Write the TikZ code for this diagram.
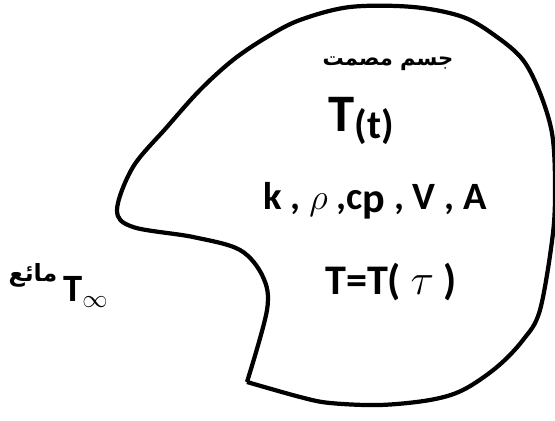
\documentclass[tikz,border=0pt]{standalone}
\usepackage{fontspec}
\setmainfont{Carlito}
\newfontfamily\arabicfont[Script=Arabic]{DejaVu Sans}
\TeXXeTstate=1

\begin{document}
\begin{tikzpicture}[x=0.02cm,y=-0.02cm]
\tikzset{
  lbl/.style={inner sep=0pt,font=\bfseries\fontsize{22}{24}\selectfont},
  arlbl/.style={inner sep=0pt,font=\arabicfont\bfseries\fontsize{12}{14}\selectfont},
  body/.style={line width=2.4pt,line join=round}
}
\useasboundingbox (0,0) rectangle (555,421);
% solid body outline
\draw[body] plot[smooth,tension=0.55] coordinates {
  (247,382) (267,310) (263,277) (240,250) (193,237) (133,227) (117,210)
  (133,167) (167,127) (200,90) (233,60) (267,37) (300,20) (350,7)
  (413,7) (463,17) (497,37) (523,60) (540,93) (552,133) (555,180)
  (553,233) (540,310) (523,340) (497,367) (463,390) (430,400)
  (380,405) (330,403) (300,397) (247,382)};
% labels inside
\node[arlbl] (solid) at (388,64) {\beginR جسم مصمت\endR};
\node[lbl,font=\bfseries\fontsize{30}{32}\selectfont] (Tt) at (361,121)
  {T\raisebox{-4pt}{\fontsize{23}{24}\selectfont(t)}};
\node[lbl] (props) at (375,201)
  {k , $\rho$ ,c\raisebox{-2pt}{\fontsize{24}{24}\selectfont p} , V , A};
\node[lbl,font=\bfseries\fontsize{24}{26}\selectfont] (Ttau) at (391,282)
  {T=T( $\tau$ )};
% fluid outside
\node[arlbl,font=\arabicfont\bfseries\fontsize{13.5}{16}\selectfont] (fluid) at (33,275) {\beginR مائع\endR};
\node[lbl] (Tinf) at (86,292) {T$_\infty$};
\end{tikzpicture}
\end{document}
